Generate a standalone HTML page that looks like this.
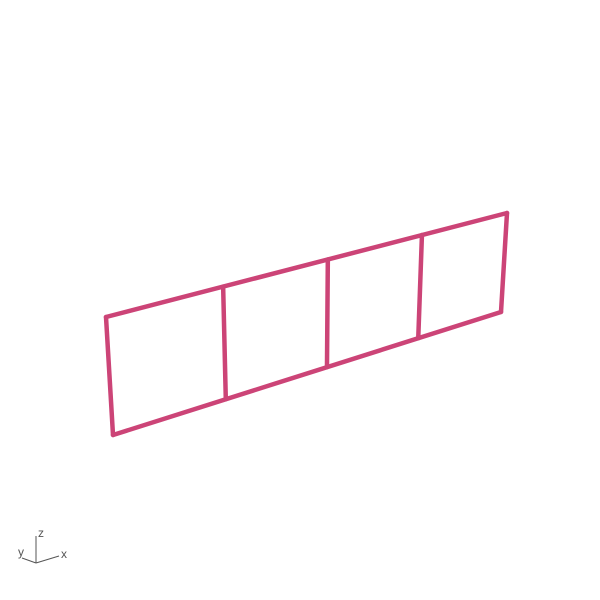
<!DOCTYPE html>
<html><head><meta charset="utf-8"><style>
body{margin:0;background:#fff}
svg{display:block}
text{font-family:"Liberation Sans",sans-serif;font-size:12px;fill:#555}
</style></head><body>
<svg id="chart" width="600" height="600">
<g id="grid"></g>
<g stroke="#555" stroke-width="1">
<line x1="36" y1="563" x2="36" y2="536"/>
<line x1="36" y1="563" x2="59" y2="556"/>
<line x1="36" y1="563" x2="22" y2="558"/>
</g>
<text x="38" y="537">z</text>
<text x="61" y="558">x</text>
<text x="18" y="556">y</text>
</svg>
<script>
const columns=[0,1,2,3,4];
const zBottom=0, zTop=1;
// screen corners of the plane (x 0..4, z 0..1)
function homography(src,dst){
  const A=[],b=[];
  for(let i=0;i<4;i++){const [x,y]=src[i],[u,v]=dst[i];
    A.push([x,y,1,0,0,0,-u*x,-u*y]);b.push(u);
    A.push([0,0,0,x,y,1,-v*x,-v*y]);b.push(v);}
  const n=8;for(let i=0;i<n;i++){let p=i;for(let r=i+1;r<n;r++)if(Math.abs(A[r][i])>Math.abs(A[p][i]))p=r;
    [A[i],A[p]]=[A[p],A[i]];[b[i],b[p]]=[b[p],b[i]];
    for(let r=0;r<n;r++)if(r!==i){const f=A[r][i]/A[i][i];for(let c=i;c<n;c++)A[r][c]-=f*A[i][c];b[r]-=f*b[i];}}
  const h=b.map((v,i)=>v/A[i][i]);
  return (x,y)=>{const w=h[6]*x+h[7]*y+1;return [(h[0]*x+h[1]*y+h[2])/w,(h[3]*x+h[4]*y+h[5])/w];};
}
const proj=homography([[0,0],[4,0],[4,1],[0,1]],[[113,435],[501,312],[507,213],[106,317]]);
const g=document.getElementById('grid');
function seg(a,b,name){
  const l=document.createElementNS('http://www.w3.org/2000/svg','line');
  l.setAttribute('x1',a[0]);l.setAttribute('y1',a[1]);l.setAttribute('x2',b[0]);l.setAttribute('y2',b[1]);
  l.setAttribute('stroke','#cc4477');l.setAttribute('stroke-width','4.5');l.setAttribute('stroke-linecap','round');
  
  
  g.appendChild(l);
}
const x0=columns[0],x1=columns[columns.length-1];
seg(proj(x0,zTop),proj(x1,zTop),'top-edge');
seg(proj(x0,zBottom),proj(x1,zBottom),'bottom-edge');
columns.forEach(c=>seg(proj(c,zBottom),proj(c,zTop),'vertical-line'));
</script>
</body></html>
